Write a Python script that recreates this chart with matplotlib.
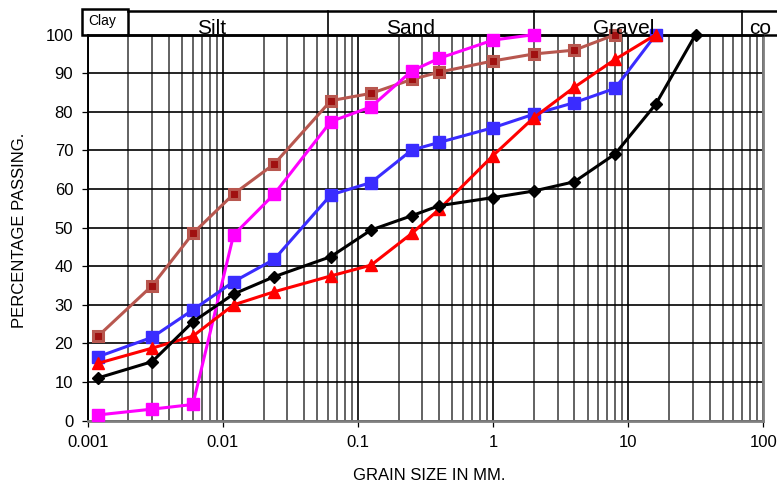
import matplotlib
matplotlib.use("Agg")
import matplotlib.pyplot as plt
from matplotlib.patches import Rectangle
from matplotlib.ticker import FixedLocator, LogLocator, NullFormatter, FixedFormatter

plt.rcParams['font.family'] = ['Liberation Sans', 'DejaVu Sans']

# grain sizes (mm) of the sieve / hydrometer readings
grain_mm = [0.0012, 0.003, 0.006, 0.012, 0.024, 0.063, 0.125, 0.25, 0.4, 1, 2, 4, 8, 16, 31.5]

# percentage passing for each sample
brown_pass = [22, 35, 48.5, 58.7, 66.5, 82.9, 84.8, 88.4, 90.3, 93.2, 95, 96, 100]
magenta_pass = [1.5, 3.0, 4.2, 48.1, 58.7, 77.5, 81.3, 90.6, 93.9, 98.6, 100]
blue_pass = [16.6, 21.6, 28.7, 36.0, 41.8, 58.5, 61.7, 70.1, 72.1, 75.9, 79.4, 82.4, 86.1, 100]
red_pass = [14.9, 18.8, 21.9, 30.0, 33.4, 37.5, 40.3, 48.5, 54.8, 68.7, 78.5, 86.4, 93.6, 100]
black_pass = [11.1, 15.3, 25.6, 32.8, 37.3, 42.5, 49.4, 53.1, 55.7, 57.8, 59.5, 61.9, 69.1, 82.0, 100]

# soil class boundaries (mm) for the header band
class_bounds = [0.002, 0.06, 2, 70]
class_names = ['Silt', 'Sand', 'Gravel', 'co']

x_ticks = [0.001, 0.01, 0.1, 1, 10, 100]
x_tick_labels = ['0.001', '0.01', '0.1', '1', '10', '100']
y_ticks = list(range(0, 101, 10))

fig = plt.figure(figsize=(7.77, 4.83), dpi=100)
ax = fig.add_axes([0.1129, 0.1290, 0.8695, 0.7992])

ax.set_xscale('log')
ax.set_xlim(0.001, 100)
ax.set_ylim(0, 100)

# grid
ax.xaxis.set_major_locator(FixedLocator(x_ticks))
ax.xaxis.set_major_formatter(FixedFormatter(x_tick_labels))
ax.xaxis.set_minor_locator(LogLocator(base=10, subs=range(2, 10)))
ax.xaxis.set_minor_formatter(NullFormatter())
ax.set_yticks(y_ticks)
ax.grid(which='major', axis='both', color='black', linewidth=1.2, zorder=1)
ax.grid(which='minor', axis='x', color='#383838', linewidth=1.1, zorder=1)
ax.set_axisbelow(True)

ax.tick_params(which='major', direction='out', length=4.5, width=0.9, pad=6,
               labelsize=12, colors='black')
ax.tick_params(which='minor', length=0)

for side in ['bottom', 'right']:
    ax.spines[side].set_color('#7f7f7f')
    ax.spines[side].set_linewidth(2.0)
ax.spines['left'].set_color('black')
ax.spines['left'].set_linewidth(1.4)
ax.spines['top'].set_color('black')
ax.spines['top'].set_linewidth(1.8)

# curves
line_kw = dict(linewidth=2.2, zorder=3, clip_on=False)
ax.plot(grain_mm[:len(brown_pass)], brown_pass, color='#b8574f', marker='s',
        markersize=7, markerfacecolor='#a01010', markeredgecolor='#b8574f',
        markeredgewidth=2.2, **line_kw)
ax.plot(grain_mm[:len(magenta_pass)], magenta_pass, color='#ff00ff', marker='s',
        markersize=8, **line_kw)
ax.plot(grain_mm[:len(blue_pass)], blue_pass, color='#3a2cff', marker='s',
        markersize=8, **line_kw)
ax.plot(grain_mm[:len(red_pass)], red_pass, color='#ff0000', marker='^',
        markersize=8, **line_kw)
ax.plot(grain_mm[:len(black_pass)], black_pass, color='black', marker='D',
        markersize=6, **line_kw)

# header band with soil classes
trans = ax.get_xaxis_transform()
hdr_top = 1.062
ax.plot([class_bounds[0], 300], [hdr_top, hdr_top], color='black', lw=1.8,
        transform=trans, clip_on=False)
ax.plot([class_bounds[0], 300], [1.0, 1.0], color='black', lw=1.8,
        transform=trans, clip_on=False)
for b in class_bounds[1:]:
    ax.plot([b, b], [1.0, hdr_top], color='black', lw=1.2, transform=trans, clip_on=False)
ax.add_patch(Rectangle((0.00091, 1.0), class_bounds[0] - 0.00091, 0.0674,
                       transform=trans, fill=False, edgecolor='black', lw=1.8,
                       clip_on=False))
ax.text(0.00101, 1.035, 'Clay', transform=trans, fontsize=10, ha='left', va='center')
name_x = [0.0082, 0.247, 9.3, 95]
for nx, name in zip(name_x, class_names):
    ax.text(nx, 1.002, name, transform=trans, fontsize=15, ha='center', va='baseline')

fig.text(19.5 / 777, 1 - 230 / 483, 'PERCENTAGE PASSING.', rotation=90,
         ha='center', va='center', fontsize=12)
fig.text(429 / 777, 1 - 475.7 / 483, 'GRAIN SIZE IN MM.', ha='center', va='center',
         fontsize=12)

fig.savefig('out.png', dpi=100)
